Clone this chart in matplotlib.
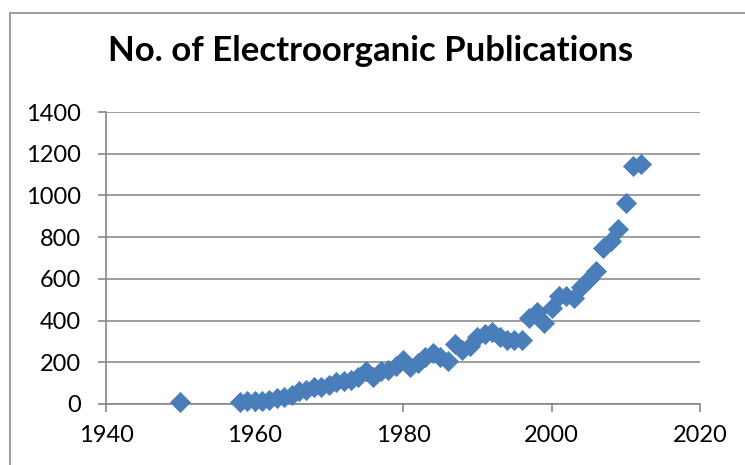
import matplotlib
matplotlib.use("Agg")
import matplotlib.pyplot as plt
from matplotlib.patches import Rectangle

# publications per year
years = [1950,
         1958, 1959, 1960, 1961, 1962, 1963, 1964, 1965, 1966, 1967,
         1968, 1969, 1970, 1971, 1972, 1973, 1974, 1975, 1976, 1977,
         1978, 1979, 1980, 1981, 1982, 1983, 1984, 1985, 1986, 1987,
         1988, 1989, 1990, 1991, 1992, 1993, 1994, 1995, 1996, 1997,
         1998, 1999, 2000, 2001, 2002, 2003, 2004, 2005, 2006, 2007,
         2008, 2009, 2010, 2011, 2012]
pubs = [10,
        10, 15, 15, 15, 20, 30, 35, 45, 60, 65,
        80, 80, 90, 105, 110, 115, 130, 160, 130, 160,
        165, 180, 210, 175, 195, 225, 245, 225, 205, 290,
        260, 280, 320, 335, 345, 320, 305, 305, 305, 410,
        440, 390, 460, 520, 520, 510, 560, 600, 640, 750,
        780, 840, 965, 1140, 1150]

x_ticks = [1940, 1960, 1980, 2000, 2020]
y_ticks = [0, 200, 400, 600, 800, 1000, 1200, 1400]

title = "No. of Electroorganic Publications"

plt.rcParams["font.family"] = ["Lato", "DejaVu Sans"]

fig = plt.figure(figsize=(7.45, 4.65), dpi=100)
ax = fig.add_axes([0.1423, 0.1312, 0.7973, 0.6279])

# outer chart border (cut off at right and bottom)
fig.patches.append(Rectangle((10 / 745, -0.2), 1.5, 1.2 - 13 / 465,
                             transform=fig.transFigure, fill=False,
                             edgecolor="#8c8c8c", linewidth=1.2))

ax.scatter(years, pubs, marker="D", s=105, color="#4a7ebb",
           edgecolors="#4a7ebb", linewidths=0.5, zorder=3, clip_on=False)

ax.set_xlim(1940, 2020)
ax.set_ylim(0, 1400)
ax.set_xticks(x_ticks)
ax.set_yticks(y_ticks)
ax.tick_params(labelsize=17, length=6, width=1.2, color="#868686",
               direction="out")
ax.tick_params(axis="y", pad=12)
ax.tick_params(axis="x", pad=9)
ax.grid(axis="y", color="#8c8c8c", linewidth=1.2)
ax.set_axisbelow(True)

for side in ["top", "right"]:
    ax.spines[side].set_visible(False)
for side in ["left", "bottom"]:
    ax.spines[side].set_color("#868686")
    ax.spines[side].set_linewidth(1.2)

fig.text(371 / 745, 1 - 51 / 465, title, fontsize=25, fontweight="bold",
         ha="center", va="center")

fig.savefig("out.png", dpi=100)
